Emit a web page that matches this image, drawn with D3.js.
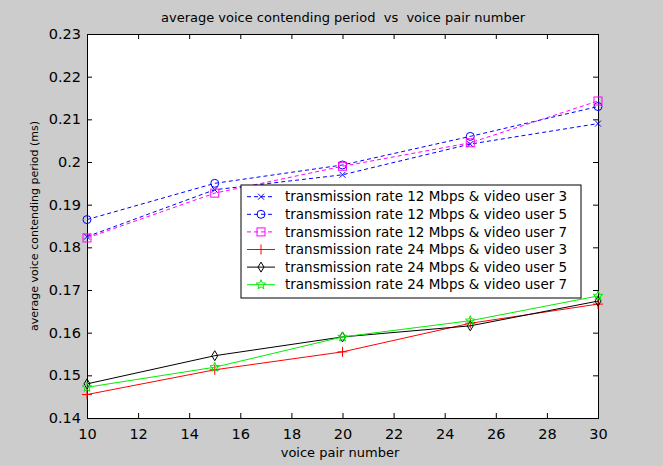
<!DOCTYPE html>
<html>
<head>
<meta charset="utf-8">
<script src="https://cdn.jsdelivr.net/npm/d3@7"></script>
<style>
  html, body { margin: 0; padding: 0; background: #cccccc; }
  svg { display: block; }
  text { font-family: "DejaVu Sans", Verdana, sans-serif; fill: #000; white-space: pre; }
</style>
</head>
<body>
<svg id="chart" width="663" height="466"></svg>
<script>
// ---- data ----
const voicePairs = [10, 15, 20, 25, 30];
const rate12user3 = [0.1825, 0.1935, 0.1970, 0.2042, 0.2090];
const rate12user5 = [0.1865, 0.1950, 0.1993, 0.2060, 0.2130];
const rate12user7 = [0.1822, 0.1927, 0.1990, 0.2045, 0.2143];
const rate24user3 = [0.1455, 0.1513, 0.1555, 0.1622, 0.1667];
const rate24user5 = [0.1480, 0.1546, 0.1590, 0.1616, 0.1674];
const rate24user7 = [0.1472, 0.1519, 0.1590, 0.1628, 0.1686];
const seriesNames = [
  "transmission rate 12 Mbps & video user 3",
  "transmission rate 12 Mbps & video user 5",
  "transmission rate 12 Mbps & video user 7",
  "transmission rate 24 Mbps & video user 3",
  "transmission rate 24 Mbps & video user 5",
  "transmission rate 24 Mbps & video user 7"
];
const xTicks = [10, 12, 14, 16, 18, 20, 22, 24, 26, 28, 30];
const yTicks = [0.14, 0.15, 0.16, 0.17, 0.18, 0.19, 0.2, 0.21, 0.22, 0.23];
const titleText = "average voice contending period  vs  voice pair number";
const xLabel = "voice pair number";
const yLabel = "average voice contending period (ms)";

(function () {
const styles = [
  { color: "#0000ff", dash: "4,3", marker: "x" },
  { color: "#0000ff", dash: "4,3", marker: "circle" },
  { color: "#ff00ff", dash: "4,3", marker: "square" },
  { color: "#ff0000", dash: null, marker: "plus" },
  { color: "#000000", dash: null, marker: "diamond" },
  { color: "#00ee00", dash: null, marker: "star" }
];
const allSeries = [rate12user3, rate12user5, rate12user7, rate24user3, rate24user5, rate24user7];

const svg = d3.select("#chart");
const pL = 87, pR = 598, pT = 34, pB = 418;
const x = d3.scaleLinear().domain([10, 30]).range([pL, pR]);
const y = d3.scaleLinear().domain([0.14, 0.23]).range([pB, pT]);

svg.append("rect").attr("x", pL).attr("y", pT)
  .attr("width", pR - pL).attr("height", pB - pT).attr("fill", "#ffffff");

const fmtY = d => d3.format(".2~f")(d);
const tickLen = 5;
const axB = svg.append("g").attr("transform", `translate(0,${pB})`)
  .call(d3.axisBottom(x).tickValues(xTicks).tickSize(-tickLen).tickPadding(8).tickFormat(d3.format("d")));
const axT = svg.append("g").attr("transform", `translate(0,${pT})`)
  .call(d3.axisTop(x).tickValues(xTicks).tickSize(-tickLen).tickFormat(""));
const axL = svg.append("g").attr("transform", `translate(${pL},0)`)
  .call(d3.axisLeft(y).tickValues(yTicks).tickSize(-tickLen).tickPadding(6).tickFormat(fmtY));
const axR = svg.append("g").attr("transform", `translate(${pR},0)`)
  .call(d3.axisRight(y).tickValues(yTicks).tickSize(-tickLen).tickFormat(""));
[axB, axT, axL, axR].forEach(g => {
  g.select(".domain").attr("stroke", "#000").attr("stroke-width", 1);
  g.selectAll(".tick line").attr("stroke", "#000");
  g.selectAll("text").attr("font-size", 14.5).attr("font-family", "Liberation Sans, Arial, sans-serif").attr("fill", "#000");
});
axB.selectAll(".tick text").attr("dy", "0.9em");

function drawMarker(g, type, cx, cy, color) {
  const s = 4;
  if (type === "x") {
    g.append("path").attr("d", `M${cx-3},${cy-3}L${cx+3},${cy+3}M${cx-3},${cy+3}L${cx+3},${cy-3}`)
      .attr("stroke", color).attr("fill", "none");
  } else if (type === "circle") {
    g.append("circle").attr("cx", cx).attr("cy", cy).attr("r", s)
      .attr("stroke", color).attr("fill", "none");
  } else if (type === "square") {
    g.append("rect").attr("x", cx - s).attr("y", cy - s).attr("width", 2 * s).attr("height", 2 * s)
      .attr("stroke", color).attr("fill", "none");
  } else if (type === "plus") {
    g.append("path").attr("d", `M${cx-5},${cy}L${cx+5},${cy}M${cx},${cy-5}L${cx},${cy+5}`)
      .attr("stroke", color).attr("fill", "none");
  } else if (type === "diamond") {
    g.append("path").attr("d", `M${cx},${cy-s-1}L${cx+s-1},${cy}L${cx},${cy+s+1}L${cx-s+1},${cy}Z`)
      .attr("stroke", color).attr("fill", "none");
  } else if (type === "star") {
    const pts = [];
    for (let i = 0; i < 10; i++) {
      const r = i % 2 === 0 ? 5 : 2.2;
      const a = -Math.PI / 2 + i * Math.PI / 5;
      pts.push([cx + r * Math.cos(a), cy + r * Math.sin(a)]);
    }
    g.append("path").attr("d", "M" + pts.map(p => p.join(",")).join("L") + "Z")
      .attr("stroke", color).attr("fill", "none");
  }
}

const line = d3.line().x(d => x(d[0])).y(d => y(d[1]));
allSeries.forEach((vals, i) => {
  const st = styles[i];
  const g = svg.append("g");
  const pts = voicePairs.map((v, j) => [v, vals[j]]);
  g.append("path").datum(pts).attr("d", line)
    .attr("fill", "none").attr("stroke", st.color).attr("stroke-width", 1)
    .attr("stroke-dasharray", st.dash);
  pts.forEach(p => drawMarker(g, st.marker, x(p[0]), y(p[1]), st.color));
});

const lg = svg.append("g");
const lgX = 241, lgY = 185, lgW = 340, lgH = 113, rowH = 17.6, firstRow = 196.7;
lg.append("rect").attr("x", lgX).attr("y", lgY).attr("width", lgW).attr("height", lgH)
  .attr("fill", "#fff").attr("stroke", "#000");
seriesNames.forEach((name, i) => {
  const st = styles[i];
  const cy = firstRow + i * rowH;
  lg.append("path").attr("d", `M247,${cy}L275,${cy}`).attr("stroke", st.color)
    .attr("stroke-dasharray", st.dash).attr("fill", "none");
  drawMarker(lg, st.marker, 261, cy, st.color);
  lg.append("text").attr("x", 285).attr("y", cy).attr("dy", "0.35em")
    .attr("font-size", 13.5).text(name);
});

svg.append("text").attr("x", 343).attr("y", 17).attr("dy", "0.35em")
  .attr("text-anchor", "middle").attr("font-size", 13).text(titleText);
svg.append("text").attr("x", 340).attr("y", 452).attr("dy", "0.35em")
  .attr("text-anchor", "middle").attr("font-size", 13).text(xLabel);
svg.append("text").attr("transform", `translate(34,${(pT + pB) / 2}) rotate(-90)`)
  .attr("dy", "0.35em").attr("text-anchor", "middle").attr("font-size", 11).text(yLabel);
})();
</script>
</body>
</html>
